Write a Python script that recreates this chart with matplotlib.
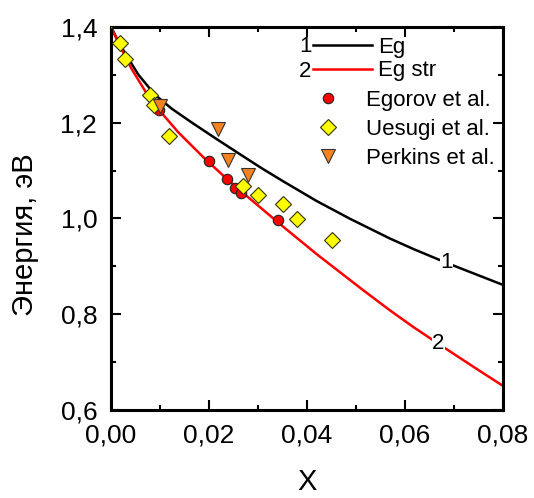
import numpy as np
import matplotlib
matplotlib.use('Agg')
import matplotlib.pyplot as plt
from matplotlib.ticker import MultipleLocator, FuncFormatter

plt.rcParams['font.family'] = ['Liberation Sans', 'DejaVu Sans']

# calculated curves
x_eg = [0, 0.0014, 0.00286, 0.00558, 0.00898, 0.0124, 0.0165, 0.0212, 0.026, 0.0307,
        0.0352, 0.042, 0.0488, 0.0569, 0.0617, 0.0685, 0.08]
y_eg = [1.40, 1.371, 1.345, 1.300, 1.258, 1.229, 1.200, 1.168, 1.136, 1.105,
        1.077, 1.036, 0.999, 0.958, 0.936, 0.907, 0.861]

x_str = [0, 0.0015, 0.0042, 0.0069, 0.010, 0.0137, 0.0192, 0.0239, 0.028,
         0.0352, 0.042, 0.0512, 0.0569, 0.0617, 0.0668, 0.0753, 0.08]
y_str = [1.40, 1.366, 1.312, 1.267, 1.224, 1.180, 1.124, 1.080, 1.044,
         0.982, 0.925, 0.852, 0.808, 0.773, 0.738, 0.681, 0.650]

# experimental points
x_egorov = [0.0097, 0.0199, 0.0236, 0.0253, 0.0265, 0.0341]
y_egorov = [1.227, 1.119, 1.082, 1.064, 1.053, 0.996]

x_uesugi = [0.0, 0.0018, 0.0029, 0.008, 0.0088, 0.0118, 0.027, 0.030, 0.035, 0.038, 0.045]
y_uesugi = [1.415, 1.367, 1.333, 1.258, 1.237, 1.173, 1.068, 1.049, 1.030, 0.998, 0.955]

x_perkins = [0.010, 0.0219, 0.0239, 0.028]
y_perkins = [1.234, 1.186, 1.122, 1.091]

fig = plt.figure(figsize=(5.34, 4.98), dpi=100)
ax = fig.add_axes([0.208, 0.177, 0.734, 0.769])

l1, = ax.plot(x_eg, y_eg, color='black', lw=1.8, label='Eg')
l2, = ax.plot(x_str, y_str, color='red', lw=1.8, label='Eg str')
m1, = ax.plot(x_egorov, y_egorov, 'o', color='red', mec='#222222', mew=0.8, ms=7.5,
              label='Egorov et al.', zorder=3)
m2, = ax.plot(x_uesugi, y_uesugi, 'D', color='#ffff00', mec='#333300', mew=0.8, ms=8,
              label='Uesugi et al.', zorder=3)
m3, = ax.plot(x_perkins, y_perkins, 'v', color='#f58220', mec='#333333', mew=0.8, ms=10,
              label='Perkins et al.', zorder=3)

# curve numbers
ax.text(0.0685, 0.907, '1', fontsize=16, ha='center', va='center',
        bbox=dict(fc='white', ec='none', pad=0.3), zorder=4)
ax.text(0.0668, 0.738, '2', fontsize=16, ha='center', va='center',
        bbox=dict(fc='white', ec='none', pad=0.3), zorder=4)

ax.set_xlim(0, 0.08)
ax.set_ylim(0.6, 1.4)
ax.xaxis.set_major_locator(MultipleLocator(0.02))
ax.xaxis.set_minor_locator(MultipleLocator(0.01))
ax.yaxis.set_major_locator(MultipleLocator(0.2))
ax.yaxis.set_minor_locator(MultipleLocator(0.1))
ax.xaxis.set_major_formatter(FuncFormatter(lambda v, p: '{:.2f}'.format(v).replace('.', ',')))
ax.yaxis.set_major_formatter(FuncFormatter(lambda v, p: '{:.1f}'.format(v).replace('.', ',')))
ax.tick_params(which='both', direction='in', top=True, right=True, width=1.5,
               labelsize=19, pad=10)
ax.tick_params(which='major', length=7)
ax.tick_params(which='minor', length=3.6)
for s in ax.spines.values():
    s.set_linewidth(2.2)

ax.set_xlabel('X', fontsize=21)
ax.xaxis.set_label_coords(0.5, -0.151)
ax.set_ylabel('Энергия, эВ', fontsize=21)
ax.yaxis.set_label_coords(-0.185, 0.457)

leg_a = ax.legend([l1, l2], ['Eg', 'Eg str'], loc='upper left', bbox_to_anchor=(0.515, 0.973),
                  frameon=False, fontsize=16, handlelength=2.65, handletextpad=0.27,
                  labelspacing=0.1, borderpad=0, borderaxespad=0)
ax.add_artist(leg_a)
ax.legend([m1, m2, m3], ['Egorov et al.', 'Uesugi et al.', 'Perkins et al.'],
          loc='upper left', bbox_to_anchor=(0.497, 0.836), frameon=False, fontsize=16,
          handlelength=2.0, handletextpad=0.71, labelspacing=0.37, borderpad=0,
          borderaxespad=0)
ax.text(0.511, 0.950, '1', transform=ax.transAxes, fontsize=16, ha='right', va='center')
ax.text(0.511, 0.883, '2', transform=ax.transAxes, fontsize=16, ha='right', va='center')

fig.savefig('out.png', dpi=100)
